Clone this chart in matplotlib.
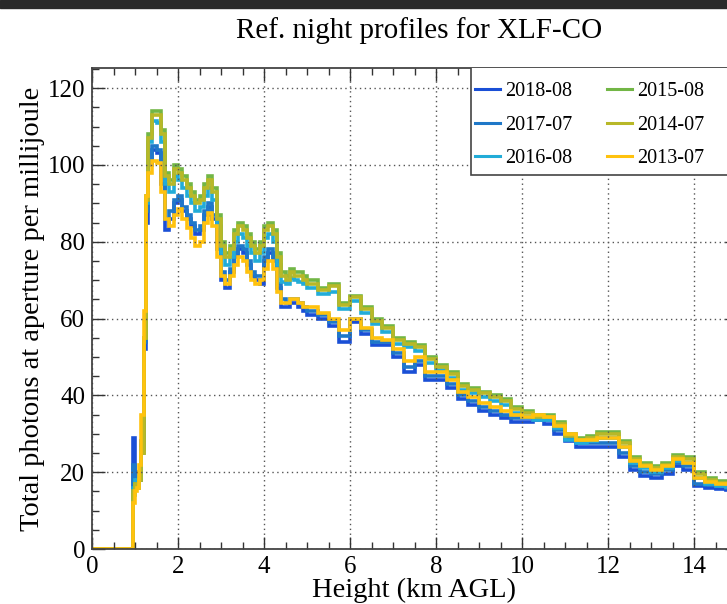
import numpy as np
import matplotlib
matplotlib.use("Agg")
import matplotlib.pyplot as plt
from matplotlib.patches import Rectangle
from matplotlib.ticker import MultipleLocator

# bin edges in km (fine near the ground, coarser higher up)
edges = ([0.0, 0.9, 0.95, 1.0, 1.05, 1.1, 1.15, 1.2, 1.25]
         + [round(1.3 + 0.1 * i, 2) for i in range(37)]
         + [5.0 + 0.25 * i for i in range(41)])

p2018_08 = [0, 0, 29, 20, 19, 18, 28, 52, 85,
            100, 104, 103, 95, 83, 86, 90, 91, 88, 86, 84, 82, 83, 87, 89, 86, 78, 70, 68, 72,
            76, 78, 77, 74, 71, 70, 69, 75, 77, 75, 68, 63, 63, 64, 64, 63, 62,
            61, 60, 58, 54, 59, 56, 53, 53, 50, 46, 48, 44, 44, 42, 39, 37.5, 36, 35, 34, 33,
            33, 33.5, 32.5, 30, 28, 26.5, 26.5, 26.5, 26.5, 24, 20.5, 19, 18.5, 19.5, 21.5,
            20.5, 16.3, 15.8, 15.6, 15.3]
p2017_07 = [0, 0, 22, 19, 18, 19, 27, 54, 88,
            101, 105, 104, 97, 86, 88, 91, 92, 89, 87, 85, 83, 84, 88, 90, 87, 80, 72, 70, 73,
            77, 79, 78, 75, 72, 71, 71, 76, 78, 76, 69, 65, 64, 65, 65, 64, 63,
            62, 61, 59, 55.5, 60, 57, 54, 54, 51, 47.5, 49, 45, 45, 43, 40, 38.5, 37, 36, 35, 34,
            34, 34.5, 33.5, 31, 29, 27.5, 27.5, 27.5, 27.5, 25, 21.5, 20, 19.5, 20.5, 22.5,
            21.5, 17, 16.6, 16.4, 16]
p2016_08 = [0, 0, 16, 18, 17, 19, 26, 55, 90,
            106, 111.5, 111, 106, 95, 93, 97, 96, 94, 92, 90, 88, 89, 92, 94, 91, 84, 77, 74, 76,
            80, 82, 81, 79, 77, 75, 77, 81, 82, 80, 74, 69.5, 69, 70.5, 70, 69.5, 69,
            68, 66.5, 67, 62.5, 64.5, 61.5, 58.5, 56.5, 53.5, 52.5, 51.5, 48.5, 46.5, 44.5, 41.5,
            40.5, 39.5, 38.5, 37.5, 35.5, 34.5, 33.5, 33.5, 31.5, 28.5, 27.5, 28, 29, 29, 26.5,
            22.5, 21, 20, 21, 23, 22.5, 18.5, 17, 16.5, 16.2]
p2015_08 = [0, 0, 14, 17, 16, 18, 25, 55, 92,
            108, 114, 114, 109, 98, 96, 100, 99, 97, 95, 93, 91, 92, 95, 97, 94, 87, 80, 77, 79,
            83, 85, 84, 82, 80, 78, 80, 84, 85, 83, 77, 72, 71, 73, 72, 72, 71,
            70, 68, 69, 64, 66, 63, 60, 58, 55, 54, 53, 50, 48, 46, 43, 42, 41, 40, 39, 37,
            36, 35, 35, 33, 30, 29, 29.5, 30.5, 30.5, 28, 24, 22.5, 21.5, 22.5, 24.5,
            24, 20, 18.5, 17.8, 17.5]
p2014_07 = [0, 0, 15, 17, 16, 18, 25, 55, 91,
            107, 113, 113, 108, 97, 95, 99, 98, 96, 94, 92, 90, 91, 94, 96, 93, 86, 79, 76, 78,
            82, 84, 83, 81, 79, 77, 79, 83, 84, 82, 76, 71, 70, 72, 71, 71, 70,
            69, 67.5, 68.5, 63.5, 65.5, 62.5, 59.5, 57.5, 54.5, 53.5, 52.5, 49.5, 47.5, 45.5, 42.5,
            41.5, 40.5, 39.5, 38.5, 36.5, 35.5, 34.5, 34.5, 32.5, 29.5, 28.5, 29, 30, 30, 27.5,
            23.5, 22, 21, 22, 24, 23.5, 19.5, 18, 17.3, 17]
p2013_07 = [0, 0, 12, 15, 16, 22, 35, 62, 92,
            98, 101, 100.5, 93, 86, 84, 87, 88.5, 86, 83.5, 81, 79, 80, 85, 87.5, 84, 76, 71, 69, 71,
            74, 76, 75, 72, 70, 69, 70, 73, 75, 73, 67, 64, 64, 65, 65, 64, 63,
            63, 61.5, 60, 57, 60, 57.5, 55, 54.5, 52, 49, 50, 46, 46, 44, 41, 39.5, 38, 37, 36, 35,
            34.5, 35, 34.5, 32, 30, 28.5, 28.5, 29, 29, 26.5, 23, 21.5, 20.5, 21.5, 23.5,
            22.5, 18.5, 17.5, 17, 16.8]

labels = ["2018-08", "2017-07", "2016-08", "2015-08", "2014-07", "2013-07"]
profiles = [p2018_08, p2017_07, p2016_08, p2015_08, p2014_07, p2013_07]
colors = ["#1a4fd6", "#1f78c8", "#22acd8", "#72b646", "#b8b828", "#ffc20e"]

plt.rcParams["font.family"] = ["Liberation Serif", "DejaVu Serif"]

fig = plt.figure(figsize=(7.27, 6.04), dpi=100)
# axes extend past the right edge of the image, like the cropped original
ax = fig.add_axes([92 / 727, 55 / 604, 645 / 727, 481 / 604])

for vals, lab, col in zip(profiles, labels, colors):
    ax.stairs(vals, edges, baseline=None, color=col, lw=2.6, label=lab)

ax.set_xlim(0, 15)
ax.set_ylim(0, 125.25)
ax.xaxis.set_major_locator(MultipleLocator(2))
ax.xaxis.set_minor_locator(MultipleLocator(0.5))
ax.yaxis.set_major_locator(MultipleLocator(20))
ax.yaxis.set_minor_locator(MultipleLocator(5))
ax.tick_params(which="both", direction="in", top=True, right=True, colors="#333333",
               labelcolor="black", labelsize=18)
ax.tick_params(which="major", length=9, width=1)
ax.tick_params(which="minor", length=5, width=1)
ax.tick_params(axis="x", pad=5)
ax.tick_params(axis="y", pad=5)
ax.grid(True, which="major", color="#555555", linestyle=(0, (1, 2.5)), lw=1)
for sp in ax.spines.values():
    sp.set_color("#444444")
    sp.set_linewidth(1.3)

ax.set_xlabel("Height (km AGL)", fontsize=20.5, labelpad=0)
ax.set_ylabel("Total photons at aperture per millijoule", fontsize=20.5, labelpad=2)
fig.text(419 / 727, 1 - 31 / 604, "Ref. night profiles for XLF-CO", fontsize=21,
         ha="center", va="center")

# legend box runs off the right edge, so draw the frame by hand
box = Rectangle(((471 - 92) / 645, (549 - 175) / 481), 0.5, 1.0, transform=ax.transAxes,
                facecolor="white", edgecolor="#444444", lw=1.2, zorder=4, clip_on=True)
ax.add_patch(box)
leg = ax.legend(ncol=2, loc="upper left", bbox_to_anchor=((475 - 92) / 645, (549 - 82) / 481),
                fontsize=14.5, frameon=False, handlelength=1.25, handletextpad=0.25,
                labelspacing=0.72, borderpad=0, borderaxespad=0, columnspacing=1.7)
leg.set_zorder(5)
for h in leg.get_lines():
    h.set_linewidth(2.2)

# dark strip along the top of the screenshot
fig.patches.append(Rectangle((0, 1 - 8 / 604), 1, 8 / 604, transform=fig.transFigure,
                             color="#2a2a2a", zorder=10))

fig.savefig("out.png", dpi=100)
